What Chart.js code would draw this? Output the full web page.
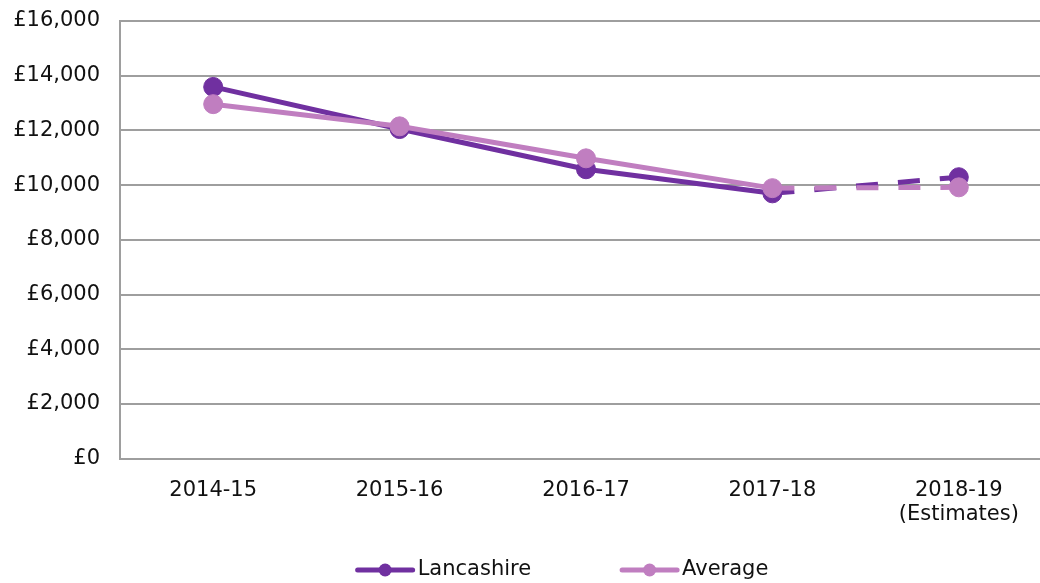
<!DOCTYPE html>
<html>
<head>
<meta charset="utf-8">
<script src="https://cdn.jsdelivr.net/npm/chart.js@4/dist/chart.umd.min.js"></script>
<style>
    html, body { margin: 0; padding: 0; background: #ffffff; overflow: hidden; }
    /* the plot runs a little past the right edge of the picture */
    #wrap { width: 1052px; height: 583px; }
</style>
</head>
<body>
<div id="wrap"><canvas id="spendChart"></canvas></div>
<script>
const years = ["2014-15", "2015-16", "2016-17", "2017-18", ["2018-19", "(Estimates)"]];
const lancashire = [13590, 12050, 10580, 9700, 10290];
const average = [12960, 12150, 10980, 9890, 9920];
const yTicks = [0, 2000, 4000, 6000, 8000, 10000, 12000, 14000, 16000];

const LANC_COLOR = "#7030A0";
const AVG_COLOR = "#C07EC0";
const GRID_COLOR = "#9E9E9E";
const FONT = "'DejaVu Sans', Verdana, sans-serif";

// last segment is an estimate, so it is dashed
const estimateDash = ctx => ctx.p0DataIndex === years.length - 2 ? [22, 20] : undefined;

const formatPounds = v => "£" + v.toLocaleString("en-GB");

// legend drawn by hand: line with a dot in the middle, then the name
const lineLegend = {
    id: "lineLegend",
    afterDraw(chart) {
        const ctx = chart.ctx;
        const items = chart.data.datasets;
        const lineLen = 55, gap = 5, spacing = 91, centerX = 563, y = 570;
        ctx.save();
        ctx.font = "21px " + FONT;
        ctx.textBaseline = "middle";
        const widths = items.map(d => ctx.measureText(d.label).width);
        let total = 0;
        widths.forEach((w, i) => { total += lineLen + gap + w + (i ? spacing : 0); });
        let x = centerX - total / 2;
        items.forEach((d, i) => {
            ctx.strokeStyle = d.borderColor;
            ctx.lineWidth = 5;
            ctx.lineCap = "round";
            ctx.beginPath();
            ctx.moveTo(x, y);
            ctx.lineTo(x + lineLen, y);
            ctx.stroke();
            ctx.fillStyle = d.borderColor;
            ctx.beginPath();
            ctx.arc(x + lineLen / 2, y, 6.5, 0, Math.PI * 2);
            ctx.fill();
            ctx.fillStyle = "#111111";
            ctx.textAlign = "left";
            ctx.fillText(d.label, x + lineLen + gap, y);
            x += lineLen + gap + widths[i] + spacing;
        });
        ctx.restore();
    }
};

new Chart(document.getElementById("spendChart"), {
    type: "line",
    data: {
        labels: years,
        datasets: [
            {
                label: "Lancashire",
                data: lancashire,
                borderColor: LANC_COLOR,
                backgroundColor: LANC_COLOR,
                pointBackgroundColor: LANC_COLOR,
                pointBorderColor: LANC_COLOR,
                borderWidth: 5,
                pointRadius: 9.5,
                pointBorderWidth: 1,
                tension: 0,
                order: 1,
                segment: { borderDash: estimateDash },
            },
            {
                label: "Average",
                data: average,
                borderColor: AVG_COLOR,
                backgroundColor: AVG_COLOR,
                pointBackgroundColor: AVG_COLOR,
                pointBorderColor: AVG_COLOR,
                borderWidth: 5,
                pointRadius: 9.5,
                pointBorderWidth: 1,
                tension: 0,
                order: 0,
                segment: { borderDash: estimateDash },
            }
        ]
    },
    options: {
        responsive: true,
        maintainAspectRatio: false,
        animation: false,
        layout: { autoPadding: false, padding: { top: 21, right: 0, bottom: 36, left: 0 } },
        plugins: {
            legend: { display: false },
            tooltip: { enabled: false }
        },
        scales: {
            x: {
                offset: true,
                afterFit: scale => { scale.paddingLeft = 0; scale.paddingRight = 0; },
                grid: { display: false, drawTicks: false },
                border: { display: true, color: GRID_COLOR, width: 2 },
                ticks: {
                    color: "#111111",
                    padding: 20,
                    maxRotation: 0,
                    font: { family: FONT, size: 21, lineHeight: 1.15 }
                }
            },
            y: {
                min: 0,
                max: 16000,
                afterBuildTicks: scale => { scale.ticks = yTicks.map(v => ({ value: v })); },
                afterFit: scale => {
                    scale.width = 120;
                    scale.paddingTop = 0;
                    scale.paddingBottom = 0;
                },
                grid: { color: GRID_COLOR, lineWidth: 2, drawTicks: false },
                border: { display: true, color: GRID_COLOR, width: 2 },
                ticks: {
                    color: "#111111",
                    padding: 20,
                    callback: v => formatPounds(v),
                    font: { family: FONT, size: 21, lineHeight: 1.15 }
                }
            }
        }
    },
    plugins: [lineLegend]
});
</script>
</body>
</html>
